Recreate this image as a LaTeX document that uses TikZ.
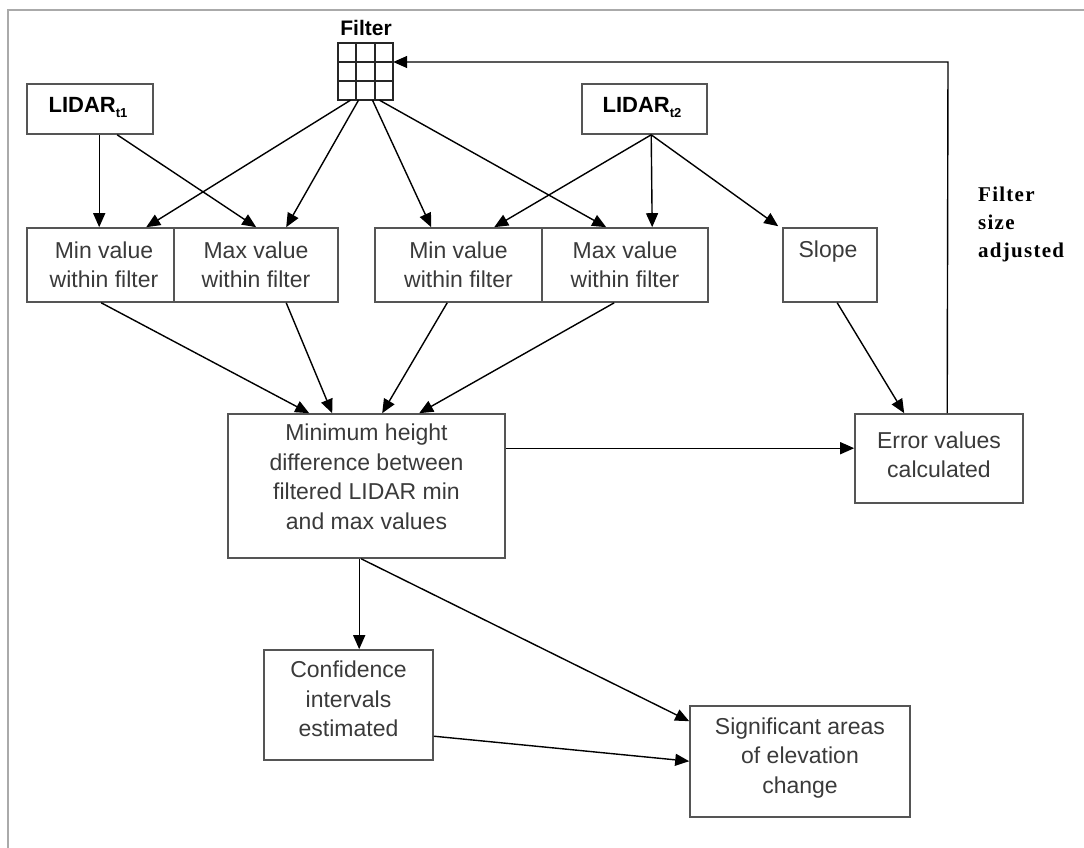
\documentclass[tikz,border=0pt]{standalone}
\usepackage{fontspec}
\setmainfont{Liberation Sans}
\newfontfamily\serifb[LetterSpace=6]{Liberation Serif}
\usetikzlibrary{arrows.meta,calc}
\definecolor{txtgray}{HTML}{3A3A3A}
\definecolor{boxgray}{HTML}{555555}
\definecolor{framegray}{HTML}{AAAAAA}
\begin{document}
\begin{tikzpicture}[x=1pt,y=-1pt,
  box/.style={draw=boxgray,line width=1.6pt,rectangle,inner sep=0pt},
  txt/.style={text=txtgray,align=center,inner sep=0pt,font=\fontsize{23}{29.5}\selectfont},
  arr/.style={draw=black,line width=1.4pt,-{Triangle[length=14pt,width=12pt]}}]
\useasboundingbox (0,0) rectangle (1084,848);
% frame
\draw[framegray,line width=2.5pt] (8,848) -- (8,10) -- (1084,10);
% filter grid
\node[inner sep=0pt,minimum width=55pt,minimum height=57pt] (filter) at (365.5,71.5) {};
\draw[black!85,line width=1.8pt] (338,43) rectangle (393,100);
\draw[black!85,line width=1.8pt] (356.3,43) -- (356.3,100) (374.7,43) -- (374.7,100)
  (338,62) -- (393,62) (338,81) -- (393,81);
\node[font=\bfseries\fontsize{21}{21}\selectfont] (filtlab) at (366,28) {Filter};
% LIDAR boxes
\node[box,minimum width=126pt,minimum height=50pt] (L1) at (90,109) {};
\node[box,minimum width=125pt,minimum height=50pt] (L2) at (644.5,109) {};
\node[font=\bfseries\fontsize{22}{22}\selectfont,inner sep=0pt] (L1t) at (88,107) {LIDAR\raisebox{-5pt}{\fontsize{13}{13}\selectfont t1}};
\node[font=\bfseries\fontsize{22}{22}\selectfont,inner sep=0pt] (L2t) at (642,107) {LIDAR\raisebox{-5pt}{\fontsize{13}{13}\selectfont t2}};
% min/max boxes
\node[box,minimum width=147pt,minimum height=74pt] (minL) at (100.5,265) {};
\node[box,minimum width=164pt,minimum height=74pt] (maxL) at (256,265) {};
\node[box,minimum width=167pt,minimum height=74pt] (minR) at (458.5,265) {};
\node[box,minimum width=166pt,minimum height=74pt] (maxR) at (625,265) {};
\node[box,minimum width=94pt,minimum height=74pt] (slope) at (830,265) {};
\node[txt] (minLt) at (104,265) {Min value\\within filter};
\node[txt] (maxLt) at (256,265) {Max value\\within filter};
\node[txt] (minRt) at (458.5,265) {Min value\\within filter};
\node[txt] (maxRt) at (625,265) {Max value\\within filter};
\node[txt] (slopet) at (828,252) {Slope};
% main boxes
\node[box,minimum width=277pt,minimum height=144pt] (mh) at (366.5,486) {};
\node[txt] (mht) at (366.5,477) {Minimum height\\difference between\\filtered LIDAR min\\and max values};
\node[box,minimum width=168pt,minimum height=89pt] (err) at (939,458.5) {};
\node[txt] (errt) at (939,455) {Error values\\calculated};
\node[box,minimum width=169pt,minimum height=110pt] (conf) at (348.5,705) {};
\node[txt] (conft) at (348.5,699) {Confidence\\intervals\\estimated};
\node[box,minimum width=220pt,minimum height=111pt] (sig) at (800,761.5) {};
\node[txt] (sigt) at (800,758) {Significant areas\\of elevation\\change};
% side label
\node[font=\serifb\bfseries\fontsize{21}{28}\selectfont,align=left,anchor=north west,inner sep=0pt] (fsa) at (978,187) {Filter\\size\\adjusted};
% arrows from LIDAR t1
\draw[arr] ([xshift=73pt]L1.south west) -- ([xshift=73pt]minL.north west);
\draw[arr] ([xshift=91pt]L1.south west) -- ([xshift=83pt]maxL.north west);
% arrows from filter
\draw[arr] ([xshift=-15pt]filter.south) -- ([xshift=120pt]minL.north west);
\draw[arr] ([xshift=-7pt]filter.south) -- ([xshift=113pt]maxL.north west);
\draw[arr] ([xshift=7pt]filter.south) -- ([xshift=57pt]minR.north west);
\draw[arr] ([xshift=14pt]filter.south) -- ([xshift=65pt]maxR.north west);
% arrows from LIDAR t2
\draw[arr] ([xshift=70pt]L2.south west) -- ([xshift=120pt]minR.north west);
\draw[arr] ([xshift=70pt]L2.south west) -- ([xshift=111pt]maxR.north west);
\draw[arr] ([xshift=70pt]L2.south west) -- ([shift={(-4pt,1pt)}]slope.north west);
% to min height box
\draw[arr] ([xshift=75pt]minL.south west) -- ([xshift=82pt]mh.north west);
\draw[arr] ([xshift=113pt]maxL.south west) -- ([xshift=105pt]mh.north west);
\draw[arr] ([xshift=73pt]minR.south west) -- ([xshift=155pt]mh.north west);
\draw[arr] ([xshift=73pt]maxR.south west) -- ([xshift=192pt]mh.north west);
% slope to error
\draw[arr] ([xshift=55pt]slope.south west) -- ([xshift=50pt]err.north west);
% mh to error
\draw[arr] ([yshift=-35pt]mh.north east) -- ([yshift=-35pt]err.north west);
% feedback
\coordinate (fb) at (948,62);
\draw[arr] ([xshift=93pt]err.north west) -- (fb) -- (filter.east |- fb);
% mh to confidence and significant
\draw[arr] ([xshift=132pt]mh.south west) -- ([xshift=96pt]conf.north west);
\draw[arr] ([xshift=134pt]mh.south west) -- ([yshift=-16pt]sig.north west);
\draw[arr] ([yshift=-87pt]conf.north east) -- ([yshift=-56pt]sig.north west);
\end{tikzpicture}
\end{document}
